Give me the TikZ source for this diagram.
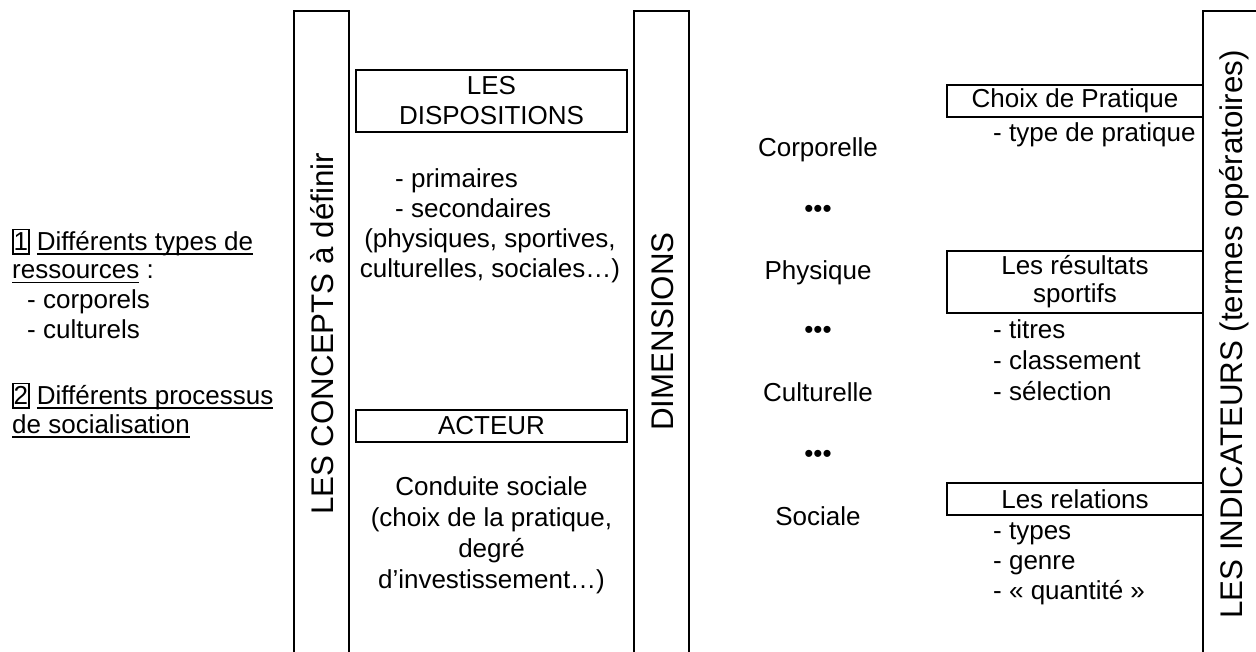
\documentclass[tikz,border=0pt]{standalone}
\usepackage{fontspec}
\setmainfont{Liberation Sans}
\newsavebox\ulbox
% underline drawn just below the baseline, through the descenders
\newcommand\uln[1]{\sbox\ulbox{#1}\rlap{\rule[-4.5pt]{\wd\ulbox}{1.5pt}}\usebox\ulbox}
% framed item number
\newcommand\numbox[1]{{\setlength\fboxsep{0pt}\setlength\fboxrule{1.5pt}\fbox{\rule[-3pt]{0pt}{23pt}#1}}}
\begin{document}
\begin{tikzpicture}[x=1pt,y=-1pt,
  every node/.style={inner sep=0pt, font=\fontsize{26}{30}\selectfont},
  col/.style={line width=2pt},
  box/.style={draw, line width=2pt, align=center},
  vlabel/.style={rotate=90, anchor=base, font=\fontsize{31.3}{37}\selectfont},
  word/.style={anchor=base},
  item/.style={anchor=base west, align=left}]
\useasboundingbox (0,0) rectangle (1256,652);

% the three columns
\draw[col] (294,654) -- (294,11) -- (349,11) -- (349,654);
\draw[col] (634,654) -- (634,11) -- (689,11) -- (689,654);
\draw[col] (1203,654) -- (1203,11) -- (1260,11);

\node[vlabel] (concepts) at (333,334) {LES CONCEPTS à définir};
\node[vlabel] (dims) at (673,331.5) {DIMENSIONS};
\node[vlabel] (indic) at (1242,334.5) {LES INDICATEURS (termes opératoires)};

% left-hand notes (multi-line nodes sit on the baseline of their last line)
\node[item] (l1) at (12,250.5) {\numbox{1} \uln{Différents types de}};
\node[item] (l2) at (12,279) {\uln{ressources} :};
\node[item] (l3) at (27,309) {- corporels};
\node[item] (l4) at (27,338) {- culturels};
\node[item] (l5) at (12,404) {\numbox{2} \uln{Différents processus}};
\node[item] (l6) at (12,433) {\uln{de socialisation}};

% concepts
\node[box, minimum width=271, minimum height=62] (disp) at (491.5,101) {LES\\DISPOSITIONS};
\node[item] (prim) at (395,218) {- primaires\\- secondaires};
\node[word, align=center] (phys) at (490,278) {(physiques, sportives,\\culturelles, sociales…)};
\node[box, minimum width=271, minimum height=32] (acteur) at (491.5,426) {ACTEUR};
\node[word, align=center, font=\fontsize{26}{31}\selectfont] (conduite) at (491.5,588)
  {Conduite sociale\\(choix de la pratique,\\degré\\d’investissement…)};

% dimensions
\node[word] (d1) at (818,156.5) {Corporelle};
\node[word] (s1) at (818,218) {•••};
\node[word] (d2) at (818,280) {Physique};
\node[word] (s2) at (818,338.5) {•••};
\node[word] (d3) at (818,401.5) {Culturelle};
\node[word] (s3) at (818,462.5) {•••};
\node[word] (d4) at (818,525) {Sociale};

% indicators
\node[box, minimum width=256, minimum height=32] (choix) at (1075,101) {Choix de Pratique};
\node[item] (choixl) at (993,142) {- type de pratique};
\node[box, minimum width=256, minimum height=62, font=\fontsize{26}{28}\selectfont] (resul) at (1075,282) {Les résultats\\sportifs};
\node[item, font=\fontsize{26}{31}\selectfont] (resull) at (993,400) {- titres\\- classement\\- sélection};
\node[box, minimum width=256, minimum height=32] (relat) at (1075,499) {Les relations};
\node[item] (relatl) at (993,599) {- types\\- genre\\- « quantité »};
\end{tikzpicture}
\end{document}
